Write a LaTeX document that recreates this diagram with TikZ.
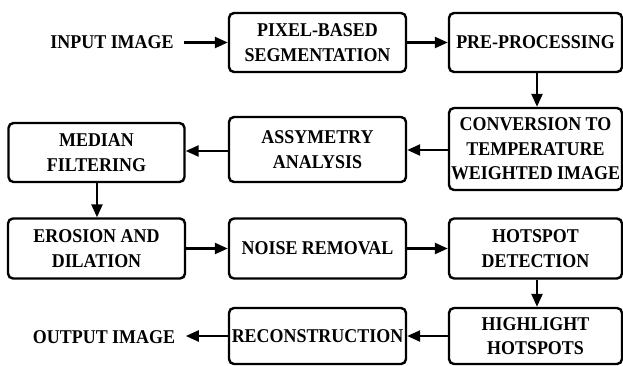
\documentclass[tikz,border=0pt]{standalone}
\usepackage{fontspec}
\setmainfont{Liberation Serif}[FakeStretch=0.92]
\usetikzlibrary{arrows.meta}
\begin{document}
\begin{tikzpicture}[x=1pt,y=-1pt,
  blk/.style={draw=black,line width=2.4pt,rounded corners=5pt,align=center,inner sep=0pt,
    font=\fontsize{19.5}{24.5}\selectfont\bfseries},
  lbl/.style={inner sep=0pt,font=\fontsize{19.5}{24.5}\selectfont\bfseries},
  arr/.style={line width=2.4pt,-{Triangle[length=13pt,width=11pt]}}]
\useasboundingbox (0,0) rectangle (623,365);
\node[blk,minimum width=177pt,minimum height=59pt] (pix) at (317.5,42.5) {PIXEL-BASED\\SEGMENTATION};
\node[blk,minimum width=173pt,minimum height=59pt] (pre) at (535.5,42.5) {PRE-PROCESSING};
\node[blk,minimum width=173pt,minimum height=82pt] (conv) at (535.5,149) {CONVERSION TO\\TEMPERATURE\\WEIGHTED IMAGE};
\node[blk,minimum width=177pt,minimum height=65pt] (asym) at (317.5,149.5) {ASSYMETRY\\ANALYSIS};
\node[blk,minimum width=176pt,minimum height=59pt] (med) at (96.5,152.5) {MEDIAN\\FILTERING};
\node[blk,minimum width=177pt,minimum height=60pt] (ero) at (96.5,248.5) {EROSION AND\\DILATION};
\node[blk,minimum width=177pt,minimum height=60pt] (noise) at (317.5,248.5) {NOISE REMOVAL};
\node[blk,minimum width=173pt,minimum height=60pt] (hot) at (535.5,248.5) {HOTSPOT\\DETECTION};
\node[blk,minimum width=173pt,minimum height=56pt] (high) at (535.5,336) {HIGHLIGHT\\HOTSPOTS};
\node[blk,minimum width=177pt,minimum height=56pt] (rec) at (317.5,336) {RECONSTRUCTION};
\node[lbl] (in) at (112,42.5) {INPUT IMAGE};
\node[lbl] (out) at (104,337) {OUTPUT IMAGE};
\draw[arr] (in.east) ++(10,0) coordinate (ins) -- (pix.west);
\draw[arr] (pix) -- (pre);
\draw[arr] (pre.south -| 537,0) -- (conv.north -| 537,0);
\draw[arr] (conv.west |- 0,150) -- (asym.east |- 0,150);
\draw[arr] (asym.west |- 0,151) -- (med.east |- 0,151);
\draw[arr] (med.south -| 97,0) -- (ero.north -| 97,0);
\draw[arr] (ero) -- (noise);
\draw[arr] (noise) -- (hot);
\draw[arr] (hot.south -| 537,0) -- (high.north -| 537,0);
\draw[arr] (high) -- (rec);
\draw[arr] (rec.west) -- ++(-42,0) coordinate (oute);
\end{tikzpicture}
\end{document}
